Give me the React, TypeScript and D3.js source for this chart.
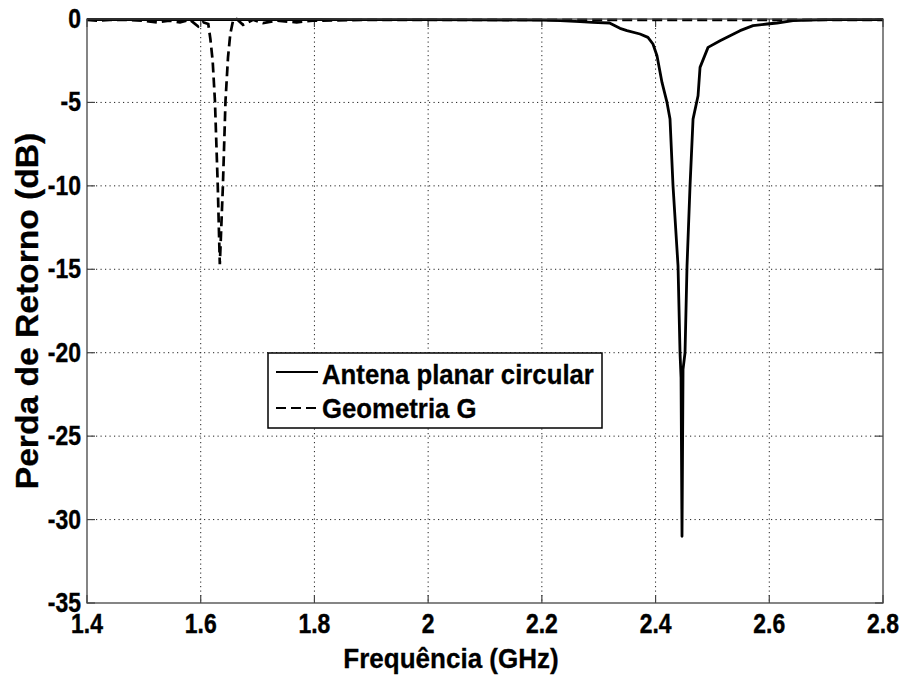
import React from "react";
import * as d3 from "d3";

// Frequency (GHz) and return loss (dB)
const circFreq = [1.4, 1.5, 1.6, 1.7, 1.8, 1.9, 2.0, 2.1, 2.2, 2.232, 2.267, 2.289, 2.319, 2.3374, 2.3497, 2.3726, 2.3866, 2.3954, 2.4025, 2.4113, 2.4201, 2.4254, 2.4307, 2.4395, 2.443, 2.4448, 2.4465, 2.4483, 2.4518, 2.4553, 2.4606, 2.4659, 2.4747, 2.4782, 2.4923, 2.5134, 2.531, 2.5486, 2.5714, 2.596, 2.6136, 2.6417, 2.7, 2.8];
const circDb = [-0.03, -0.03, -0.03, -0.03, -0.03, -0.04, -0.04, -0.05, -0.07, -0.1, -0.16, -0.2, -0.24, -0.56, -0.7, -0.9, -1.1, -1.5, -2.2, -3.8, -5.0, -6.0, -10, -14.8, -20, -21.5, -31, -21, -20, -14.8, -10, -6, -4.6, -2.9, -1.7, -1.3, -1.0, -0.7, -0.4, -0.3, -0.24, -0.1, -0.04, -0.04];

const geoFreq = [1.4, 1.417, 1.44, 1.47, 1.5, 1.523, 1.545, 1.5636, 1.581, 1.5957, 1.604, 1.6133, 1.617, 1.621, 1.625, 1.63, 1.6336, 1.639, 1.6436, 1.648, 1.652, 1.6568, 1.6633, 1.6744, 1.692, 1.7095, 1.7336, 1.7688, 1.7975, 1.9, 2.1, 2.3, 2.5, 2.7, 2.8];
const geoDb = [-0.05, -0.1, -0.05, -0.05, -0.1, -0.2, -0.1, -0.2, -0.05, -0.45, -0.2, -0.3, -1.2, -2.5, -4.9, -10, -14.7, -10, -4.9, -2.3, -0.9, -0.1, 0, -0.35, -0.05, -0.25, -0.1, -0.2, -0.1, -0.05, -0.05, -0.05, -0.05, -0.05, -0.05];

const xTicks = [1.4, 1.6, 1.8, 2.0, 2.2, 2.4, 2.6, 2.8];
const xTickLabels = ["1.4", "1.6", "1.8", "2", "2.2", "2.4", "2.6", "2.8"];
const yTicks = [0, -5, -10, -15, -20, -25, -30, -35];

const seriesNames = ["Antena planar circular", "Geometria G"];
const xLabel = "Frequência (GHz)";
const yLabel = "Perda de Retorno (dB)";

const W = 905;
const H = 677;
const left = 87;
const right = 883;
const top = 19;
const bottom = 603;
const FONT = "'Liberation Sans', Arial, Helvetica, sans-serif";

export default function App() {
  const x = d3.scaleLinear().domain([1.4, 2.8]).range([left, right]);
  const y = d3.scaleLinear().domain([-35, 0]).range([bottom, top]);

  const line = d3
    .line<[number, number]>()
    .x((d) => x(d[0]))
    .y((d) => y(d[1]));

  const circPath = line(circFreq.map((f, i) => [f, circDb[i]]) as [number, number][]) || "";
  const geoPath = line(geoFreq.map((f, i) => [f, geoDb[i]]) as [number, number][]) || "";

  const tickLen = 8;
  const gridColor = "#222";
  const tickFont = 27;
  const tickScale = 0.85;

  return (
    <svg
      width={W}
      height={H}
      style={{ position: "absolute", left: 0, top: 0, background: "#fff" }}
      fontFamily={FONT}
    >
      <rect x={0} y={0} width={W} height={H} fill="#fff" />
      {/* grid */}
      {xTicks.slice(1, -1).map((t) => (
        <line
          key={"gx" + t}
          x1={x(t)}
          x2={x(t)}
          y1={top}
          y2={bottom}
          stroke={gridColor}
          strokeWidth={1}
          strokeDasharray="1.2,3.3"
        />
      ))}
      {yTicks.slice(1, -1).map((t) => (
        <line
          key={"gy" + t}
          x1={left}
          x2={right}
          y1={y(t)}
          y2={y(t)}
          stroke={gridColor}
          strokeWidth={1}
          strokeDasharray="1.2,3.3"
        />
      ))}
      {/* ticks on all four sides */}
      {xTicks.map((t) => (
        <g key={"tx" + t}>
          <line x1={x(t)} x2={x(t)} y1={bottom} y2={bottom - tickLen} stroke="#444" strokeWidth={1.2} />
          <line x1={x(t)} x2={x(t)} y1={top} y2={top + tickLen} stroke="#444" strokeWidth={1.2} />
        </g>
      ))}
      {yTicks.map((t) => (
        <g key={"ty" + t}>
          <line x1={left} x2={left + tickLen} y1={y(t)} y2={y(t)} stroke="#444" strokeWidth={1.2} />
          <line x1={right} x2={right - tickLen} y1={y(t)} y2={y(t)} stroke="#444" strokeWidth={1.2} />
        </g>
      ))}
      {/* curves */}
      <path d={geoPath} fill="none" stroke="#000" strokeWidth={2.7} strokeDasharray="10,5" />
      <path d={circPath} fill="none" stroke="#000" strokeWidth={2.8} strokeLinejoin="round" />
      {/* frame */}
      <rect x={left} y={top} width={right - left} height={bottom - top} fill="none" stroke="#444" strokeWidth={1.3} />
      {/* tick labels */}
      {xTicks.map((t, i) => (
        <text
          key={"lx" + t}
          transform={`translate(${x(t)}, 633) scale(${tickScale}, 1)`}
          textAnchor="middle"
          fontSize={tickFont}
          fontWeight="bold"
          fill="#000"
          stroke="#000"
          strokeWidth={0.4}
        >
          {xTickLabels[i]}
        </text>
      ))}
      {yTicks.map((t) => (
        <text
          key={"ly" + t}
          transform={`translate(81, ${y(t) + 9}) scale(${tickScale}, 1)`}
          textAnchor="end"
          fontSize={tickFont}
          fontWeight="bold"
          fill="#000"
          stroke="#000"
          strokeWidth={0.4}
        >
          {String(t)}
        </text>
      ))}
      {/* axis labels */}
      <text
        transform={`translate(451, 668) scale(0.93, 1)`}
        textAnchor="middle"
        fontSize={28}
        fontWeight="bold"
        fill="#000"
        stroke="#000"
        strokeWidth={0.3}
      >
        {xLabel}
      </text>
      <text
        transform={`translate(38, ${(top + bottom) / 2}) rotate(-90) scale(1.05, 1)`}
        textAnchor="middle"
        fontSize={32}
        fontWeight="bold"
        fill="#000"
        stroke="#000"
        strokeWidth={0.3}
      >
        {yLabel}
      </text>
      {/* legend */}
      <rect x={268} y={353} width={334} height={75} fill="#fff" stroke="#000" strokeWidth={1.5} />
      <line x1={276} x2={318} y1={372} y2={372} stroke="#000" strokeWidth={2.2} />
      <line x1={276} x2={318} y1={408} y2={408} stroke="#000" strokeWidth={2.2} strokeDasharray="10,5" />
      <text
        transform="translate(322, 384) scale(0.92, 1)"
        fontSize={28}
        fontWeight="bold"
        fill="#000"
        stroke="#000"
        strokeWidth={0.3}
      >
        {seriesNames[0]}
      </text>
      <text
        transform="translate(322, 418) scale(0.92, 1)"
        fontSize={28}
        fontWeight="bold"
        fill="#000"
        stroke="#000"
        strokeWidth={0.3}
      >
        {seriesNames[1]}
      </text>
    </svg>
  );
}
